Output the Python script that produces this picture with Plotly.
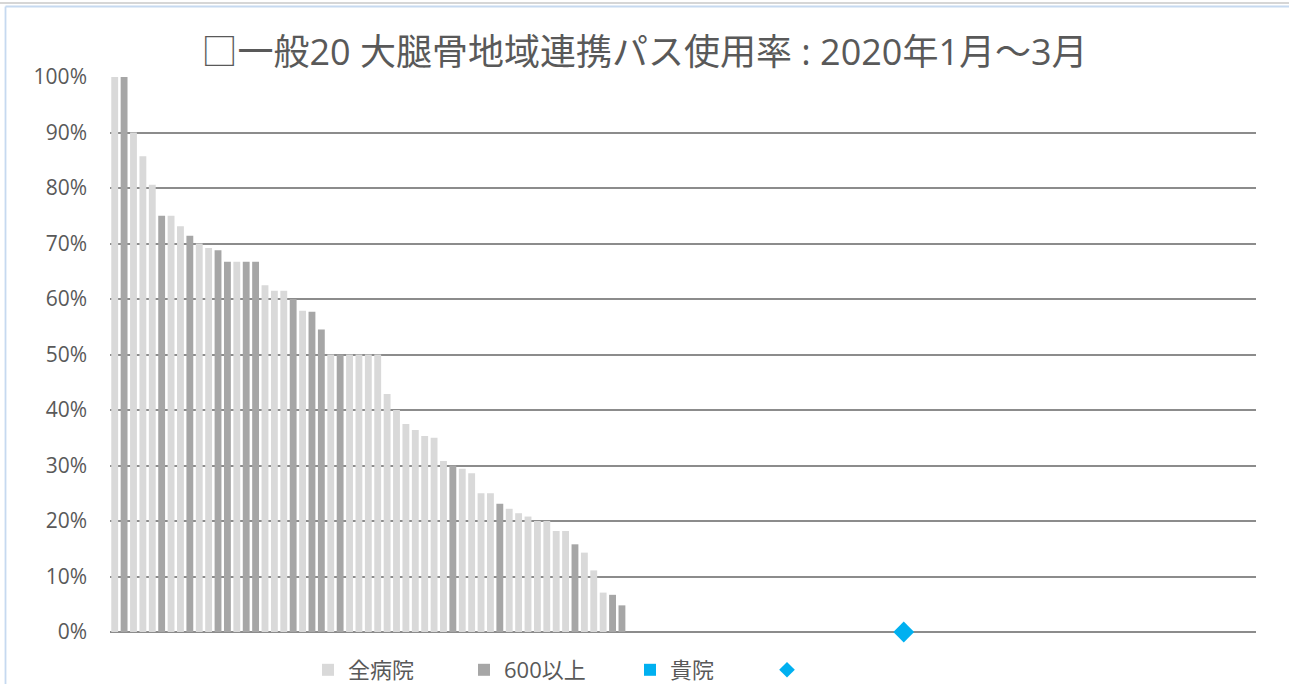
import plotly.graph_objects as go

# ---- data ----
n_categories = 122
categories = [str(i) for i in range(1, n_categories + 1)]

# usage rate (%) of each hospital, sorted descending
rates = [100, 100, 90, 85.7, 80.6, 75, 75, 73.1, 71.4, 70,
         69.2, 68.8, 66.7, 66.7, 66.7, 66.7, 62.5, 61.5, 61.5, 60,
         57.9, 57.7, 54.5, 50, 50, 50, 50, 50, 50, 42.9,
         40, 37.5, 36.4, 35.3, 35, 30.8, 30, 29.4, 28.6, 25,
         25, 23.1, 22.2, 21.4, 20.8, 20, 20, 18.2, 18.2, 15.8,
         14.3, 11.1, 7.1, 6.7, 4.8]
# 1 = hospital with 600 beds or more
is_600 = [0, 1, 0, 0, 0, 1, 0, 0, 1, 0,
          0, 1, 1, 0, 1, 1, 0, 0, 0, 1,
          0, 1, 1, 0, 1, 0, 0, 0, 0, 0,
          0, 0, 0, 0, 0, 0, 1, 0, 0, 0,
          0, 1, 0, 0, 0, 0, 0, 0, 0, 1,
          0, 0, 0, 1, 1]

own_category = "85"
own_rate = 0

yticks = [0, 10, 20, 30, 40, 50, 60, 70, 80, 90, 100]
ytick_text = [f"{v}%" for v in yticks]

title_text = "□一般20 大腿骨地域連携パス使用率 : 2020年1月～3月"
names = ["全病院", "600以上", "貴院", ""]

# ---- build series ----
all_vals = [None] * n_categories
big_vals = [None] * n_categories
for i, (r, b) in enumerate(zip(rates, is_600)):
    if b:
        big_vals[i] = r
    else:
        all_vals[i] = r

LIGHT = "#d9d9d9"
DARK = "#a6a6a6"
BLUE = "#00b0f0"
TXT = "#595959"
FONT = "Open Sans, Noto Sans CJK JP, sans-serif"

fig = go.Figure()
fig.add_trace(go.Bar(x=categories, y=all_vals, name=names[0],
                     marker=dict(color=LIGHT, line=dict(width=0)), legend="legend"))
fig.add_trace(go.Bar(x=categories, y=big_vals, name=names[1],
                     marker=dict(color=DARK, line=dict(width=0)), legend="legend2"))
fig.add_trace(go.Bar(x=[own_category], y=[own_rate], name=names[2],
                     marker=dict(color=BLUE, line=dict(width=0)), legend="legend3"))
fig.add_trace(go.Scatter(x=[own_category], y=[own_rate], name=names[3], mode="markers",
                         marker=dict(symbol="diamond", size=16, color=BLUE),
                         cliponaxis=False, legend="legend4"))

L, R, T, B = 110, 33, 77, 52
W, H = 1289, 684
pw, ph = W - L - R, H - T - B


def px_x(px):
    return (px - L) / pw


def px_y(py):
    return (H - B - py) / ph


leg_common = dict(orientation="h", font=dict(family=FONT, size=22, color=TXT),
                  bgcolor="rgba(0,0,0,0)", xanchor="left", yanchor="middle",
                  y=px_y(670), tracegroupgap=0)

fig.update_layout(
    width=W, height=H,
    margin=dict(l=L, r=R, t=T, b=B, autoexpand=False),
    paper_bgcolor="white", plot_bgcolor="white",
    barmode="overlay", bargap=0.27,
    title=dict(text=title_text, x=0.5, xref="container", xanchor="center",
               y=1 - 52 / H, yref="container", yanchor="middle",
               font=dict(family=FONT, size=36, color=TXT)),
    xaxis=dict(type="category", categoryorder="array", categoryarray=categories,
               range=[-0.5, n_categories - 0.5], showticklabels=False,
               showgrid=False, zeroline=False, showline=False, ticks=""),
    yaxis=dict(range=[0, 100], tickvals=yticks, ticktext=ytick_text,
               showgrid=True, gridcolor="#8c8c8c", gridwidth=1.6,
               zeroline=True, zerolinecolor="#8c8c8c", zerolinewidth=1.6,
               showline=False, ticks="", ticklabelstandoff=22,
               tickfont=dict(family=FONT, size=21, color=TXT)),
    legend=dict(x=px_x(308), **leg_common),
    legend2=dict(x=px_x(464), **leg_common),
    legend3=dict(x=px_x(630), **leg_common),
    legend4=dict(x=px_x(767), itemsizing="constant", **leg_common),
    showlegend=True,
)

# chart-area frame and sheet line
fig.add_shape(type="line", xref="paper", yref="paper",
              x0=px_x(0), x1=px_x(W + 5), y0=px_y(3), y1=px_y(3),
              line=dict(color="#c8c8c8", width=1.5))
fig.add_shape(type="line", xref="paper", yref="paper",
              x0=px_x(5.5), x1=px_x(W + 5), y0=px_y(6.5), y1=px_y(6.5),
              line=dict(color="#c6d9f0", width=1.8))
fig.add_shape(type="line", xref="paper", yref="paper",
              x0=px_x(5.5), x1=px_x(5.5), y0=px_y(6.5), y1=px_y(H + 10),
              line=dict(color="#c6d9f0", width=1.8))

fig.write_html("out.html", config={"displayModeBar": False},
               post_script="document.body.style.margin='0';document.body.style.overflow='hidden';")
